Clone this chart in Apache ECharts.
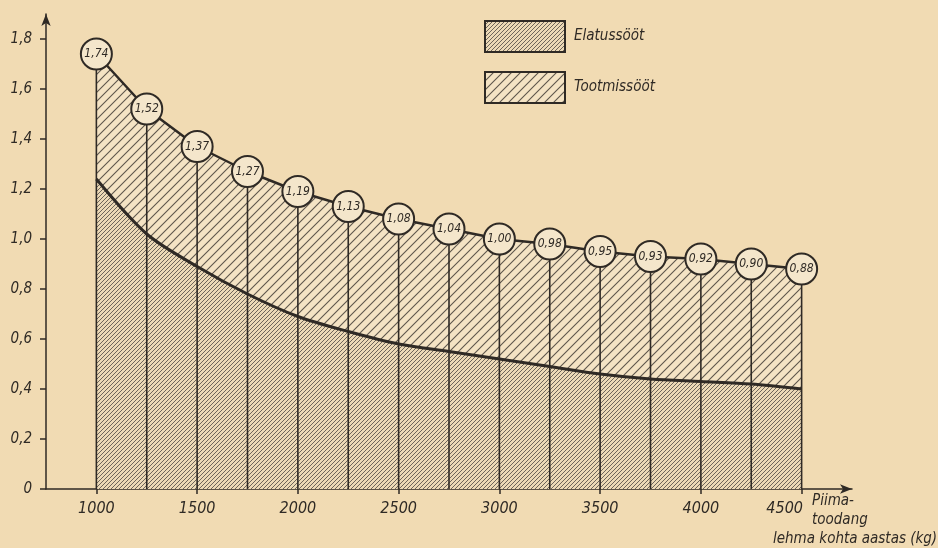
<!DOCTYPE html>
<html><head><meta charset="utf-8">
<script src="https://cdn.jsdelivr.net/npm/echarts@6/dist/echarts.min.js"></script>
<style>html,body{margin:0;padding:0;background:#f1dbb3}#c{width:938px;height:548px}</style>
</head><body><div id="c"></div>
<script>
// ---- data ----
const milkYield = [1000,1250,1500,1750,2000,2250,2500,2750,3000,3250,3500,3750,4000,4250,4500];
const totalFeed = [1.74,1.52,1.37,1.27,1.19,1.13,1.08,1.04,1.00,0.98,0.95,0.93,0.92,0.90,0.88];
const maintenanceFeed = [1.24,1.02,0.89,0.78,0.69,0.63,0.58,0.55,0.52,0.49,0.46,0.44,0.43,0.42,0.40];
const xTickValues = [1000,1500,2000,2500,3000,3500,4000,4500];
const yTickValues = [0,0.2,0.4,0.6,0.8,1.0,1.2,1.4,1.6,1.8];
const seriesNames = ['Elatussööt','Tootmissööt'];
const xAxisNameLines = ['Piima-','toodang','lehma kohta aastas (kg)'];

// ---- style ----
const INK = '#2f2a25';
const FONT = "'Liberation Sans Narrow','DejaVu Sans Condensed',sans-serif";
function hatch(spacing, lineW, color, bg){
  const c = document.createElement('canvas'); c.width = c.height = spacing;
  const g = c.getContext('2d');
  if (bg){ g.fillStyle = bg; g.fillRect(0,0,spacing,spacing); }
  g.strokeStyle = color; g.lineWidth = lineW;
  g.beginPath();
  g.moveTo(-1, spacing+1); g.lineTo(spacing+1, -1);
  g.moveTo(-1, 1); g.lineTo(1, -1);
  g.moveTo(spacing-1, spacing+1); g.lineTo(spacing+1, spacing-1);
  g.stroke();
  return {image: c, repeat: 'repeat'};
}
const denseHatch = hatch(4, 1, '#6e655a', '#ecd9b6');
const sparseHatch = hatch(9, 1.1, '#5e564c', '#f4e3c4');
const comma = (v, d) => v.toFixed(d).replace('.', ',');
const lastX = xTickValues[xTickValues.length - 1];

const pairsTotal = milkYield.map((x,i)=>[x,totalFeed[i]]);
const pairsMaint = milkYield.map((x,i)=>[x,maintenanceFeed[i]]);

const chart = echarts.init(document.getElementById('c'));
chart.setOption({
  backgroundColor: '#f1dbb3',
  animation: false,
  grid: {left: 46, right: 86, top: 14, bottom: 59, containLabel: false, outerBoundsMode: 'none'},
  legend: {
    left: 479, top: 15, orient: 'vertical', itemWidth: 80, itemHeight: 31, itemGap: 18,
    icon: 'rect', selectedMode: false,
    textStyle: {fontFamily: FONT, fontStyle: 'italic', fontSize: 15, color: INK, padding: [0,0,0,4]},
    data: [
      {name: seriesNames[0], itemStyle: {color: denseHatch, borderColor: INK, borderWidth: 2}},
      {name: seriesNames[1], itemStyle: {color: sparseHatch, borderColor: INK, borderWidth: 2}}
    ]
  },
  xAxis: {
    type: 'value', min: 750, max: 4750,
    axisLine: {symbol: ['none','arrow'], symbolSize: [7,12], lineStyle: {color: INK, width: 1.5}},
    axisTick: {customValues: xTickValues, length: 5, lineStyle: {color: INK, width: 1.5}},
    axisLabel: {customValues: xTickValues, margin: 12, fontFamily: FONT, fontStyle: 'italic', fontSize: 16, color: INK,
      formatter: v => v === lastX ? '{last|' + v + '}' : String(v),
      rich: {last: {fontFamily: FONT, fontStyle: 'italic', fontSize: 16, color: INK, padding: [0,34,0,0]}}},
    splitLine: {show: false},
    name: '{a|' + xAxisNameLines[0] + '}\n{a|' + xAxisNameLines[1] + '}\n{b|' + xAxisNameLines[2] + '}',
    nameLocation: 'end', nameGap: -79, nameMoveOverlap: false,
    nameTextStyle: {
      align: 'left', verticalAlign: 'top', padding: [3,0,0,0],
      rich: {
        a: {fontFamily: FONT, fontStyle: 'italic', fontSize: 15, color: INK, lineHeight: 19, padding: [0,0,0,39]},
        b: {fontFamily: FONT, fontStyle: 'italic', fontSize: 15, color: INK, lineHeight: 19}
      }
    }
  },
  yAxis: {
    type: 'value', min: 0, max: 1.9,
    axisLine: {show: true, symbol: ['none','arrow'], symbolSize: [7,12], lineStyle: {color: INK, width: 1.5}},
    axisTick: {show: true, customValues: yTickValues, length: 6, lineStyle: {color: INK, width: 1.5}},
    axisLabel: {customValues: yTickValues, margin: 14, fontFamily: FONT, fontStyle: 'italic', fontSize: 15, color: INK,
      formatter: v => v === 0 ? '0' : comma(v, 1)},
    splitLine: {show: false}
  },
  series: [
    {
      name: seriesNames[1], type: 'line', data: pairsTotal, z: 1,
      showSymbol: false, lineStyle: {color: INK, width: 2.5}, itemStyle: {color: INK},
      areaStyle: {color: sparseHatch, opacity: 1}
    },
    {
      name: seriesNames[0], type: 'line', data: pairsMaint, z: 2, smooth: 0.3,
      showSymbol: false, lineStyle: {color: INK, width: 3}, itemStyle: {color: INK},
      areaStyle: {color: denseHatch, opacity: 1}
    },
    {
      name: 'verticals', type: 'bar', data: pairsTotal, z: 3, barWidth: 1.6, silent: true,
      itemStyle: {color: INK}
    },
    {
      name: 'values', type: 'scatter', data: pairsTotal, z: 5, symbolSize: 31, silent: true,
      itemStyle: {color: '#f4e6cb', borderColor: INK, borderWidth: 2, opacity: 1},
      label: {show: true, position: 'inside', fontFamily: FONT, fontStyle: 'italic', fontSize: 12, color: INK,
        formatter: p => comma(p.value[1], 2)}
    }
  ]
});
</script>
</body></html>
